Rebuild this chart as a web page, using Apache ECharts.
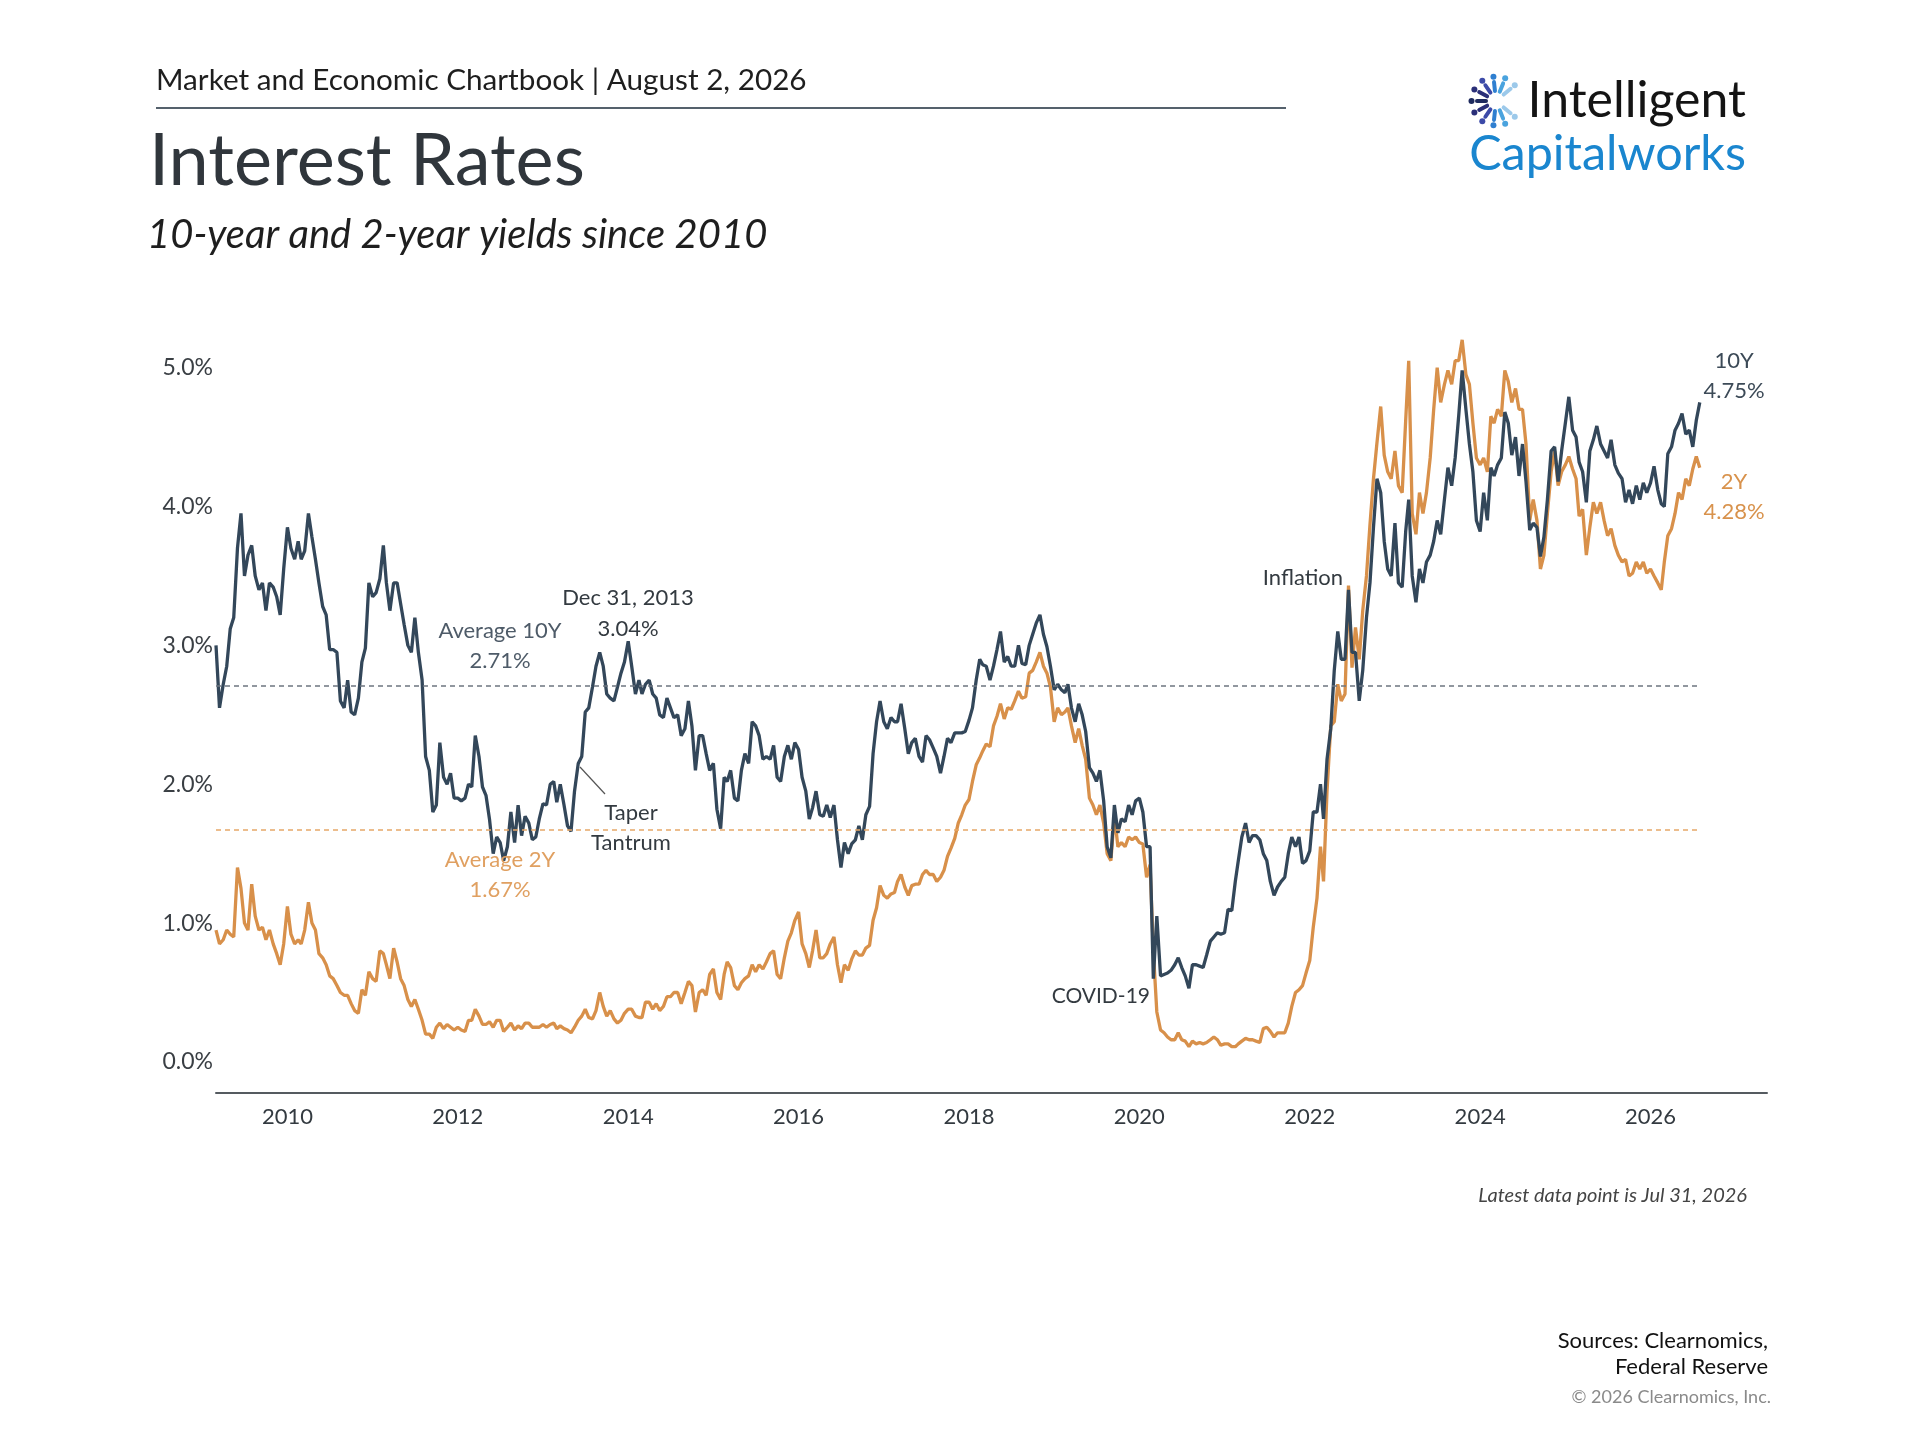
<!DOCTYPE html>
<html><head><meta charset="utf-8">
<script src="https://cdn.jsdelivr.net/npm/echarts@6/dist/echarts.min.js"></script>
<style>html,body{margin:0;padding:0;background:#fff}#chart{width:1920px;height:1440px}</style>
</head><body><div id="chart"></div>
<script>
// ---- data: semi-monthly readings (1st and 16th of each month), Mar 2009 - Jul 2026, plus Jul 31, 2026
const tenYear = [
  3.00,2.55, 2.72,2.85, 3.12,3.20, 3.70,3.95, 3.50,3.65, 3.72,3.50, 3.40,3.45, 3.25,3.45, 3.42,3.35, 3.22,3.55, // 2009
  3.85,3.70, 3.62,3.75, 3.62,3.68, 3.95,3.78, 3.62,3.45, 3.28,3.22, 2.97,2.97, 2.95,2.60, 2.55,2.75, 2.52,2.50, 2.62,2.88, 2.98,3.45, // 2010
  3.35,3.38, 3.48,3.72, 3.45,3.25, 3.45,3.45, 3.30,3.15, 3.00,2.95, 3.20,2.95, 2.75,2.20, 2.10,1.80, 1.85,2.30, 2.05,2.00, 2.08,1.90, // 2011
  1.90,1.88, 1.90,2.00, 1.98,2.35, 2.20,1.98, 1.92,1.75, 1.50,1.62, 1.58,1.45, 1.55,1.80, 1.58,1.85, 1.63,1.77, 1.72,1.60, 1.62,1.75, // 2012
  1.86,1.85, 2.00,2.02, 1.87,2.00, 1.85,1.70, 1.66,1.95, 2.15,2.20, 2.52,2.55, 2.70,2.85, 2.95,2.85, 2.65,2.62, 2.60,2.70, 2.80,2.88, // 2013
  3.03,2.85, 2.65,2.75, 2.65,2.72, 2.75,2.65, 2.62,2.50, 2.48,2.62, 2.55,2.48, 2.50,2.35, 2.40,2.60, 2.42,2.10, 2.35,2.35, 2.22,2.10, // 2014
  2.15,1.82, 1.68,2.05, 2.02,2.10, 1.90,1.88, 2.10,2.22, 2.15,2.45, 2.42,2.35, 2.18,2.20, 2.18,2.28, 2.05,2.02, 2.20,2.28, 2.18,2.30, // 2015
  2.25,2.05, 1.95,1.75, 1.83,1.95, 1.78,1.77, 1.85,1.76, 1.85,1.60, 1.40,1.58, 1.50,1.57, 1.60,1.70, 1.60,1.78, 1.84,2.22, 2.45,2.60, // 2016
  2.45,2.40, 2.48,2.45, 2.45,2.58, 2.40,2.22, 2.30,2.33, 2.20,2.16, 2.35,2.32, 2.26,2.20, 2.08,2.20, 2.33,2.30, 2.37,2.37, 2.37,2.38, // 2017
  2.46,2.55, 2.75,2.90, 2.86,2.85, 2.75,2.85, 2.97,3.10, 2.88,2.92, 2.85,2.85, 3.00,2.87, 2.86,3.00, 3.08,3.16, 3.22,3.08, 2.99,2.85, // 2018
  2.68,2.72, 2.68,2.66, 2.72,2.55, 2.45,2.58, 2.50,2.38, 2.12,2.08, 2.02,2.10, 1.88,1.55, 1.47,1.85, 1.65,1.75, 1.73,1.85, 1.78,1.88, // 2019
  1.90,1.80, 1.55,1.55, 0.60,1.05, 0.62,0.63, 0.64,0.66, 0.70,0.75, 0.68,0.62, 0.53,0.70, 0.70,0.69, 0.68,0.77, 0.87,0.90, 0.93,0.92, // 2020
  0.93,1.10, 1.09,1.30, 1.45,1.62, 1.72,1.58, 1.63,1.63, 1.60,1.50, 1.45,1.30, 1.20,1.26, 1.30,1.33, 1.50,1.62, 1.55,1.62, 1.43,1.45, // 2021
  1.52,1.80, 1.80,2.00, 1.75,2.18, 2.40,2.82, 3.10,2.90, 2.90,3.40, 2.95,2.95, 2.60,2.82, 3.20,3.45, 3.85,4.20, 4.10,3.75, 3.55,3.50, // 2022
  3.88,3.45, 3.42,3.82, 4.05,3.50, 3.31,3.55, 3.45,3.60, 3.65,3.75, 3.90,3.80, 4.05,4.28, 4.15,4.35, 4.65,4.98, 4.70,4.45, 4.25,3.90, // 2023
  3.82,4.10, 3.90,4.28, 4.22,4.30, 4.35,4.68, 4.60,4.37, 4.50,4.22, 4.45,4.18, 3.83,3.88, 3.85,3.64, 3.78,4.05, 4.40,4.43, 4.18,4.40, // 2024
  4.60,4.79, 4.55,4.50, 4.32,4.25, 4.03,4.40, 4.48,4.58, 4.45,4.40, 4.35,4.48, 4.30,4.24, 4.20,4.03, 4.12,4.02, 4.15,4.05, 4.17,4.10, // 2025
  4.17,4.29, 4.12,4.02, 4.00,4.38, 4.43,4.55, 4.60,4.67, 4.52,4.55, 4.43,4.62, 4.75 // 2026
];
const twoYear = [
  0.95,0.85, 0.88,0.95, 0.92,0.90, 1.40,1.25, 1.00,0.95, 1.28,1.05, 0.95,0.97, 0.88,0.95, 0.85,0.78, 0.70,0.85, // 2009
  1.12,0.92, 0.85,0.88, 0.85,0.95, 1.15,1.00, 0.95,0.78, 0.75,0.70, 0.62,0.60, 0.55,0.50, 0.48,0.48, 0.42,0.37, 0.35,0.52, 0.48,0.65, // 2010
  0.60,0.58, 0.80,0.78, 0.70,0.60, 0.82,0.72, 0.60,0.55, 0.45,0.40, 0.45,0.38, 0.30,0.20, 0.20,0.17, 0.25,0.28, 0.24,0.27, 0.25,0.23, // 2011
  0.25,0.23, 0.22,0.30, 0.30,0.38, 0.33,0.27, 0.27,0.29, 0.25,0.30, 0.30,0.22, 0.25,0.28, 0.23,0.26, 0.24,0.28, 0.28,0.25, 0.25,0.25, // 2012
  0.27,0.25, 0.27,0.28, 0.24,0.26, 0.24,0.23, 0.21,0.25, 0.30,0.33, 0.38,0.32, 0.31,0.37, 0.50,0.40, 0.33,0.37, 0.31,0.28, 0.30,0.35, // 2013
  0.38,0.38, 0.33,0.32, 0.32,0.43, 0.43,0.38, 0.42,0.37, 0.40,0.47, 0.47,0.50, 0.50,0.42, 0.50,0.58, 0.55,0.36, 0.50,0.52, 0.48,0.63, // 2014
  0.67,0.50, 0.45,0.63, 0.72,0.68, 0.55,0.52, 0.57,0.60, 0.62,0.70, 0.65,0.70, 0.67,0.72, 0.78,0.80, 0.63,0.60, 0.75,0.87, 0.93,1.02, // 2015
  1.08,0.85, 0.78,0.68, 0.80,0.95, 0.75,0.75, 0.78,0.85, 0.90,0.70, 0.57,0.70, 0.66,0.74, 0.80,0.77, 0.77,0.82, 0.84,1.02, 1.11,1.27, // 2016
  1.20,1.18, 1.21,1.22, 1.30,1.35, 1.26,1.20, 1.27,1.28, 1.28,1.35, 1.38,1.35, 1.35,1.30, 1.33,1.38, 1.48,1.54, 1.61,1.72, 1.78,1.85, // 2017
  1.89,2.02, 2.14,2.19, 2.24,2.29, 2.27,2.42, 2.49,2.58, 2.47,2.55, 2.54,2.60, 2.67,2.62, 2.63,2.80, 2.82,2.88, 2.95,2.85, 2.80,2.70, // 2018
  2.45,2.55, 2.50,2.52, 2.55,2.42, 2.30,2.40, 2.28,2.18, 1.90,1.85, 1.78,1.85, 1.72,1.50, 1.45,1.78, 1.55,1.58, 1.55,1.62, 1.60,1.62, // 2019
  1.58,1.57, 1.33,1.42, 0.80,0.36, 0.23,0.21, 0.18,0.16, 0.16,0.21, 0.16,0.15, 0.11,0.15, 0.13,0.14, 0.13,0.14, 0.16,0.18, 0.16,0.12, // 2020
  0.13,0.13, 0.11,0.11, 0.13,0.15, 0.17,0.16, 0.16,0.15, 0.14,0.24, 0.25,0.22, 0.18,0.21, 0.21,0.21, 0.28,0.40, 0.50,0.52, 0.55,0.64, // 2021
  0.73,0.97, 1.18,1.55, 1.30,1.95, 2.42,2.45, 2.72,2.60, 2.65,3.43, 2.84,3.13, 2.90,3.25, 3.50,3.87, 4.20,4.46, 4.72,4.37, 4.25,4.20, // 2022
  4.40,4.15, 4.10,4.62, 5.05,3.95, 3.80,4.10, 3.95,4.10, 4.35,4.70, 5.00,4.75, 4.88,4.98, 4.88,5.05, 5.05,5.20, 4.95,4.88, 4.60,4.35, // 2023
  4.30,4.35, 4.25,4.65, 4.60,4.70, 4.65,4.98, 4.90,4.75, 4.85,4.70, 4.70,4.45, 3.90,4.05, 3.90,3.55, 3.65,3.95, 4.25,4.40, 4.15,4.25, // 2024
  4.30,4.36, 4.27,4.20, 3.93,3.98, 3.65,3.85, 4.03,3.95, 4.03,3.90, 3.79,3.84, 3.72,3.65, 3.60,3.62, 3.50,3.52, 3.60,3.55, 3.60,3.52, // 2025
  3.55,3.50, 3.45,3.40, 3.60,3.79, 3.84,3.95, 4.10,4.05, 4.20,4.15, 4.27,4.36, 4.28 // 2026
];
const avg10Y = 2.71;
const avg2Y = 1.67;
const yTickValues = [0, 1, 2, 3, 4, 5];
const xTickYears = [2010, 2012, 2014, 2016, 2018, 2020, 2022, 2024, 2026];

// observation dates: 1st and 16th of each month, Mar 2009 .. Jul 2026, then Jul 31 2026
const dates = [];
for (let y = 2009; y <= 2026; y++) {
  for (let m = 1; m <= 12; m++) {
    if (y === 2009 && m < 3) continue;
    if (y === 2026 && m > 7) break;
    const mm = String(m).padStart(2, '0');
    dates.push(y + '-' + mm + '-01', y + '-' + mm + '-16');
  }
}
dates.push('2026-07-31');

// date string -> fractional year (position on the value axis)
function toYear(s) {
  const p = s.split('-').map(Number);
  const t = Date.UTC(p[0], p[1] - 1, p[2]);
  const a = Date.UTC(p[0], 0, 1), b = Date.UTC(p[0] + 1, 0, 1);
  return p[0] + (t - a) / (b - a);
}
const xs = dates.map(toYear);

const C10 = '#33475a', C2 = '#d8904a';
const FONT = 'Lato, "Source Sans Pro", "Noto Sans", sans-serif';

function txt(x, y, s, size, fill, align, extra) {
  extra = extra || {};
  return {
    type: 'text', x: x, y: y, z: 100, silent: true,
    style: {
      text: s, fill: fill, fontSize: size, fontFamily: FONT,
      fontStyle: extra.italic ? 'italic' : 'normal',
      fontWeight: extra.weight || 'normal',
      textAlign: align, textVerticalAlign: 'middle', align: align, verticalAlign: 'middle'
    }
  };
}

const graphics = [
  txt(156, 80, 'Market and Economic Chartbook | August 2, 2026', 29.7, '#1e1e1e', 'left'),
  { type: 'line', silent: true, shape: { x1: 156, y1: 108, x2: 1286, y2: 108 }, style: { stroke: '#55616c', lineWidth: 2 } },
  txt(149, 162, 'Interest Rates', 72, '#30363c', 'left'),
  txt(147, 235, '10-year and 2-year yields since 2010', 40, '#1e1e1e', 'left', { italic: true }),
  txt(1746, 101, 'Intelligent', 50, '#141414', 'right'),
  txt(1746, 154, 'Capitalworks', 48.5, '#1a86cf', 'right'),
  // annotations
  txt(500, 631, 'Average 10Y', 22, '#4e5b68', 'center'),
  txt(500, 661, '2.71%', 22, '#4e5b68', 'center'),
  txt(628, 598, 'Dec 31, 2013', 22, '#333a40', 'center'),
  txt(628, 629, '3.04%', 22, '#333a40', 'center'),
  txt(631, 813, 'Taper', 22, '#333a40', 'center'),
  txt(631, 843, 'Tantrum', 22, '#333a40', 'center'),
  { type: 'line', silent: true, shape: { x1: 580, y1: 767, x2: 605, y2: 794 }, style: { stroke: '#555', lineWidth: 1.2 } },
  txt(500, 860, 'Average 2Y', 22, '#e0a061', 'center'),
  txt(500, 890, '1.67%', 22, '#e0a061', 'center'),
  txt(1343, 578, 'Inflation', 22, '#333a40', 'right'),
  txt(1150, 996, 'COVID-19', 21, '#333a40', 'right'),
  txt(1734, 361, '10Y', 22, '#3c4a57', 'center'),
  txt(1734, 391, '4.75%', 22, '#3c4a57', 'center'),
  txt(1734, 482, '2Y', 22, '#d8924c', 'center'),
  txt(1734, 512, '4.28%', 22, '#d8924c', 'center'),
  // footer
  txt(1747, 1196, 'Latest data point is Jul 31, 2026', 20, '#444', 'right', { italic: true }),
  txt(1768, 1341, 'Sources: Clearnomics,', 22, '#111', 'right'),
  txt(1768, 1367, 'Federal Reserve', 22, '#111', 'right'),
  txt(1771, 1397, '\u00a9 2026 Clearnomics, Inc.', 18, '#8a8a8a', 'right')
];

// logo mark: ring of spokes forming a "C"
const spokeColors = ['#9cc9ea', '#4aa3de', '#2f7fd0', '#3c4aa8', '#2a2f78', '#1e2a5e', '#2a2f78', '#3c4aa8', '#2f7fd0', '#4aa3de', '#9cc9ea'];
const cx = 1496, cy = 101;
spokeColors.forEach(function (col, i) {
  const a = (40 + i * 28) * Math.PI / 180;
  const c = Math.cos(a), s = -Math.sin(a);
  graphics.push({ type: 'line', silent: true, shape: { x1: cx + 10 * c, y1: cy + 10 * s, x2: cx + 19 * c, y2: cy + 19 * s }, style: { stroke: col, lineWidth: 4, lineCap: 'round' } });
  graphics.push({ type: 'circle', silent: true, shape: { cx: cx + 24.5 * c, cy: cy + 24.5 * s, r: 3 }, style: { fill: col } });
});

const chart = echarts.init(document.getElementById('chart'), null, { renderer: 'canvas' });
chart.setOption({
  backgroundColor: '#ffffff',
  animation: false,
  grid: { left: 216, right: 153, top: 326, bottom: 347.5, containLabel: false },
  xAxis: {
    type: 'value',
    min: toYear('2009-03-01'), max: toYear('2027-05-15'),
    axisLine: { show: true, onZero: false, lineStyle: { color: '#555b60', width: 2 } },
    axisTick: { show: false },
    splitLine: { show: false },
    axisLabel: {
      customValues: xTickYears,
      formatter: function (v) { return String(Math.round(v)); },
      fontSize: 22, fontFamily: FONT, color: '#333a40', margin: 13
    }
  },
  yAxis: {
    type: 'value', min: -0.22, max: 5.3,
    axisLine: { show: false }, axisTick: { show: false }, splitLine: { show: false },
    axisLabel: {
      customValues: yTickValues,
      formatter: function (v) { return v.toFixed(1) + '%'; },
      fontSize: 23, fontFamily: FONT, color: '#3a3f44', margin: 3
    }
  },
  series: [
    {
      name: '2Y', type: 'line', showSymbol: false, symbol: 'none',
      data: xs.map(function (x, i) { return [x, twoYear[i]]; }),
      lineStyle: { color: C2, width: 3.3 }, itemStyle: { color: C2 }, z: 2,
      markLine: {
        silent: true, symbol: 'none', label: { show: false },
        lineStyle: { color: '#e6a868', type: [5, 4], width: 1.5 },
        data: [[{ coord: [xs[0], avg2Y] }, { coord: [xs[xs.length - 1], avg2Y] }]]
      }
    },
    {
      name: '10Y', type: 'line', showSymbol: false, symbol: 'none',
      data: xs.map(function (x, i) { return [x, tenYear[i]]; }),
      lineStyle: { color: C10, width: 3.3 }, itemStyle: { color: C10 }, z: 3,
      markLine: {
        silent: true, symbol: 'none', label: { show: false },
        lineStyle: { color: '#6e7680', type: [5, 4], width: 1.5 },
        data: [[{ coord: [xs[0], avg10Y] }, { coord: [xs[xs.length - 1], avg10Y] }]]
      }
    }
  ],
  graphic: graphics
});
</script>
</body></html>
